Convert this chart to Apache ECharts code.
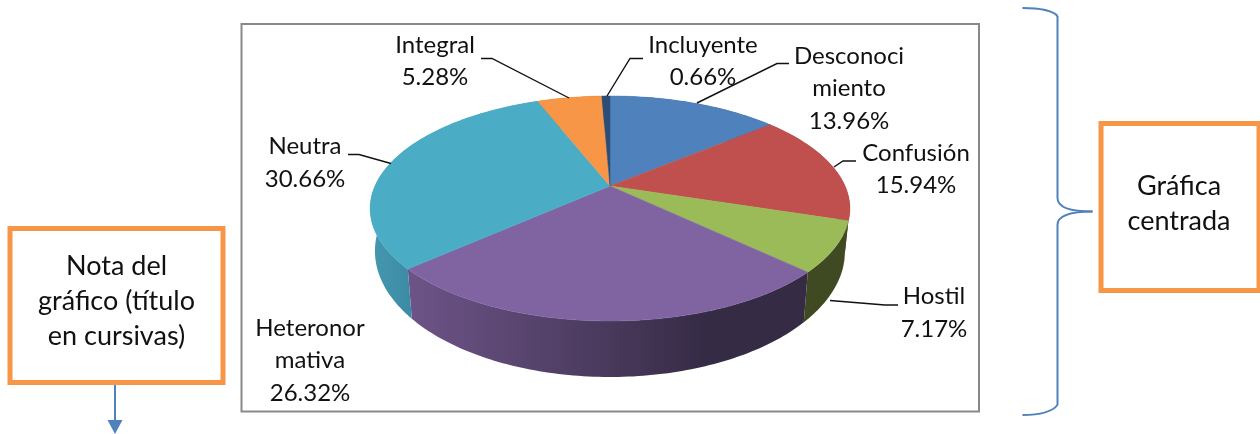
<!DOCTYPE html>
<html>
<head>
<meta charset="utf-8">
<title>Grafica</title>
<script src="https://cdn.jsdelivr.net/npm/echarts@6/dist/echarts.min.js"></script>
<style>
  html, body { margin: 0; padding: 0; background: #fff; }
  #chart { width: 1260px; height: 434px; }
</style>
</head>
<body>
<div id="chart"></div>
<script>
// datos de la grafica
const categories = ['Desconoci\nmiento', 'Confusión', 'Hostil', 'Heteronor\nmativa', 'Neutra', 'Integral', 'Incluyente'];
const values = [13.96, 15.94, 7.17, 26.32, 30.66, 5.28, 0.66];

const topColors = ['#4f81bd', '#c0504d', '#9bbb59', '#8064a2', '#4bacc6', '#f79646', '#2c4d75'];
// colores de la pared lateral, repartidos de izquierda a derecha
const wallColors = [
  ['#2f4d71', '#2f4d71'],
  ['#7a3230', '#7a3230'],
  ['#3f4a22', '#3f4a22'],
  ['#6d5488', '#5b4772', '#49395c', '#352b45', '#352b45'],
  ['#4598b0', '#3c8aa4', '#3c8aa4', '#3c8aa4', '#3c8aa4'],
  ['#a0612d', '#a0612d'],
  ['#1c314b', '#1c314b']
];

// posicion de cada etiqueta, mismo orden que categories: [x, y]
const labelPos = [[849, 88.5], [916, 169.5], [934, 313], [310, 360.5], [305, 163], [435, 61.5], [703, 61.5]];
const leaderLines = [
  [[789, 63.5], [777, 63.5], [697, 103]],
  [[856, 161], [843, 161], [834, 167]],
  [[898, 305], [885, 305], [830, 300.5]],
  [],
  [[348, 154.5], [359, 154.5], [391, 163.5]],
  [[481, 58.5], [492, 58.5], [569, 98]],
  [[643, 58.5], [630, 58.5], [607, 96]]
];

const FONT = 'Lato, "Noto Sans", sans-serif';
const total = values.reduce((a, b) => a + b, 0);

// proyeccion del circulo a la elipse (perspectiva del pastel 3D)
const CX = 610, CY = 186, AX = 235, BY = 108, K = 0.2;
function topPoint(deg) {
  const t = deg * Math.PI / 180;
  const x = Math.sin(t), y = -Math.cos(t);
  const d = 1 - K * y;
  return [CX + AX * x / d, CY + BY * y / d];
}
function bottomPoint(deg) {
  const p = topPoint(deg);
  return [CX + (p[0] - CX) * 0.98, 251 + (p[1] - 208.5) * 1.12];
}
function sliceAngles(i) {
  let start = 0;
  for (let j = 0; j < i; j++) start += values[j];
  return [start / total * 360, (start + values[i]) / total * 360];
}
function arc(fn, a, b) {
  const pts = [];
  const n = Math.max(2, Math.ceil(b - a));
  for (let i = 0; i <= n; i++) pts.push(fn(a + (b - a) * i / n));
  return pts;
}

function renderTop(params) {
  const i = params.dataIndex;
  const ang = sliceAngles(i);
  return {
    type: 'polygon',
    shape: { points: [[CX, CY]].concat(arc(topPoint, ang[0], ang[1])) },
    style: { fill: topColors[i], stroke: topColors[i], lineWidth: 0.5 }
  };
}
function renderWall(params) {
  const i = params.dataIndex;
  const ang = sliceAngles(i);
  const pts = arc(topPoint, ang[0], ang[1]).concat(arc(bottomPoint, ang[0], ang[1]).reverse());
  const stops = wallColors[i].map((c, k) => ({ offset: k / (wallColors[i].length - 1), color: c }));
  return {
    type: 'polygon',
    shape: { points: pts },
    style: { fill: new echarts.graphic.LinearGradient(0, 0, 1, 0, stops) }
  };
}

const labelElements = categories.map((c, i) => ({
  type: 'text',
  x: labelPos[i][0],
  y: labelPos[i][1],
  z: 20,
  style: {
    text: c + '\n' + values[i].toFixed(2) + '%',
    font: '24px ' + FONT,
    lineHeight: 32.5,
    fill: '#111',
    align: 'center',
    verticalAlign: 'middle'
  }
}));
const lineElements = leaderLines.filter(l => l.length).map(l => ({
  type: 'polyline',
  z: 15,
  shape: { points: l },
  style: { stroke: '#111', lineWidth: 1.4, fill: null }
}));

function noteText(x, y, text) {
  return {
    type: 'text', x: x, y: y, z: 20,
    style: { text: text, font: '27px ' + FONT, lineHeight: 35, fill: '#111', align: 'center', verticalAlign: 'middle' }
  };
}
function orangeBox(x, y, w, h) {
  return {
    type: 'rect', z: 5,
    shape: { x: x, y: y, width: w, height: h },
    style: { fill: '#fff', stroke: '#f79646', lineWidth: 5 }
  };
}
function blueCurve(x1, y1, c1x, c1y, c2x, c2y, x2, y2) {
  return {
    type: 'bezierCurve', z: 5,
    shape: { x1: x1, y1: y1, cpx1: c1x, cpy1: c1y, cpx2: c2x, cpy2: c2y, x2: x2, y2: y2 },
    style: { fill: null, stroke: '#4f81bd', lineWidth: 2 }
  };
}
function blueLine(x1, y1, x2, y2) {
  return { type: 'line', z: 5, shape: { x1: x1, y1: y1, x2: x2, y2: y2 }, style: { stroke: '#4f81bd', lineWidth: 2 } };
}

const chart = echarts.init(document.getElementById('chart'));
chart.setOption({
  animation: false,
  backgroundColor: '#fff',
  series: [
    { type: 'custom', coordinateSystem: 'none', z: 3, data: values, renderItem: renderWall, silent: true },
    { type: 'custom', coordinateSystem: 'none', z: 4, data: values, renderItem: renderTop, silent: true }
  ],
  graphic: {
    elements: [
      // marco
      { type: 'rect', z: 0, shape: { x: 241.5, y: 24, width: 737.5, height: 387.5 }, style: { fill: '#fff', stroke: '#898989', lineWidth: 2 } },
      // cuadros de nota
      orangeBox(10, 228.5, 213, 154),
      noteText(116.5, 301.5, 'Nota del\ngráfico (título\nen cursivas)'),
      orangeBox(1101, 123.5, 158, 167),
      noteText(1179, 203.5, 'Gráfica\ncentrada'),
      // flecha
      blueLine(115, 385, 115, 421),
      { type: 'polygon', z: 5, shape: { points: [[107.5, 420], [122.5, 420], [115, 434]] }, style: { fill: '#4f81bd' } },
      // llave
      blueCurve(1022.5, 8, 1040, 8, 1052, 10, 1057.5, 16),
      blueLine(1057.5, 16, 1057.5, 198),
      blueCurve(1057.5, 198, 1057.5, 206, 1066, 211.5, 1092.5, 211.5),
      blueCurve(1092.5, 211.5, 1066, 211.5, 1057.5, 217, 1057.5, 225),
      blueLine(1057.5, 225, 1057.5, 405),
      blueCurve(1057.5, 405, 1052, 412, 1040, 415, 1022.5, 415)
    ].concat(lineElements, labelElements)
  }
});
</script>
</body>
</html>
